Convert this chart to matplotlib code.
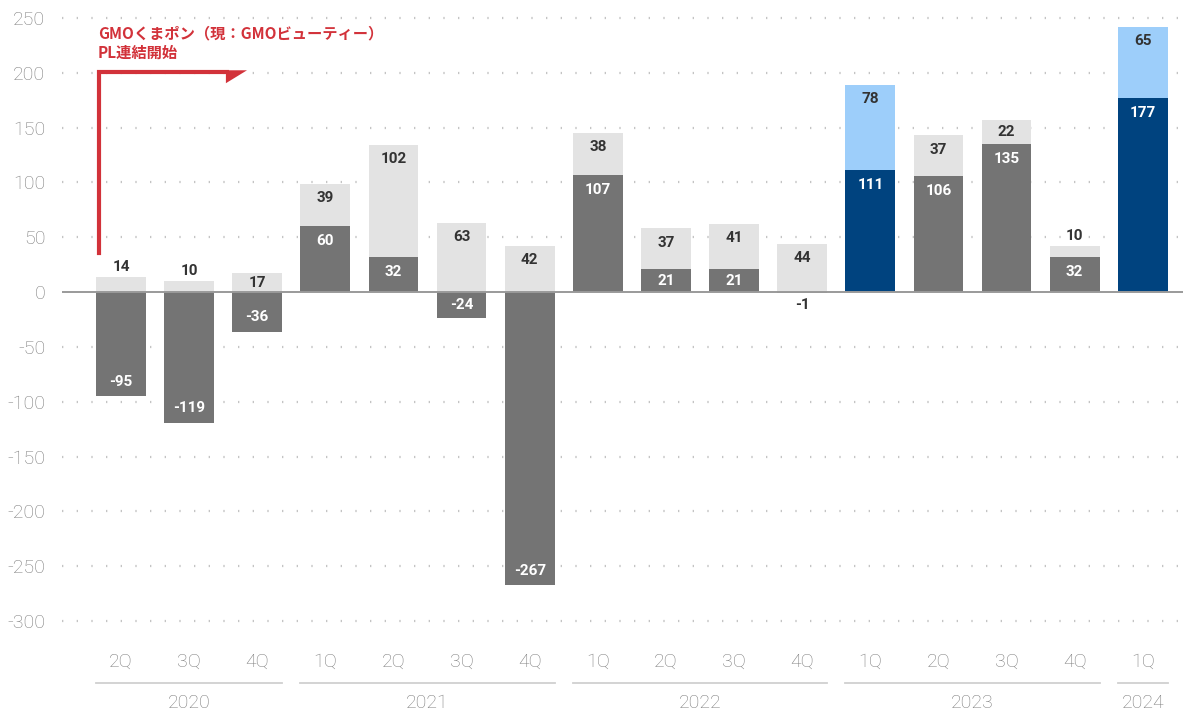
import matplotlib
matplotlib.use("Agg")
import matplotlib.pyplot as plt
import matplotlib.transforms as mtransforms
from matplotlib.patches import Polygon

plt.rcParams['font.family'] = ['Roboto', 'DejaVu Sans']

# data
quarters = ["2Q", "3Q", "4Q", "1Q", "2Q", "3Q", "4Q", "1Q", "2Q", "3Q", "4Q",
            "1Q", "2Q", "3Q", "4Q", "1Q"]
base_vals = [-95, -119, -36, 60, 32, -24, -267, 107, 21, 21, -1, 111, 106, 135, 32, 177]
top_vals = [14, 10, 17, 39, 102, 63, 42, 38, 37, 41, 44, 78, 37, 22, 10, 65]
highlight = [False] * 11 + [True, False, False, False, True]
years = ["2020", "2021", "2022", "2023", "2024"]
year_spans = [(0, 2), (3, 6), (7, 10), (11, 14), (15, 15)]
yticks = [250, 200, 150, 100, 50, 0, -50, -100, -150, -200, -250, -300]

dark_gray = "#747474"
light_gray = "#e3e3e3"
dark_blue = "#00437f"
light_blue = "#9dcefa"
red = "#d2323a"
axis_gray = "#7c7c7c"

fig = plt.figure(figsize=(11.83, 7.14), dpi=100)
ax = fig.add_axes([62 / 1183, 0.1149, 1 - 62 / 1183, 0.8676])

x = list(range(len(quarters)))
w = 0.73
base_colors = [dark_blue if h else dark_gray for h in highlight]
top_colors = [light_blue if h else light_gray for h in highlight]
top_bottoms = [max(b, 0) for b in base_vals]

for yt in yticks:
    if yt != 0:
        ax.axhline(yt, color="#c4c4c4", lw=1.6, ls=(0, (0.6, 6)), zorder=0)

ax.bar(x, base_vals, width=w, color=base_colors, zorder=2)
ax.bar(x, top_vals, width=w, bottom=top_bottoms, color=top_colors, zorder=2)
ax.axhline(0, color="#9a9a9a", lw=1.4, zorder=3)

# value labels
for i in x:
    b = base_vals[i]
    t = top_vals[i]
    tb = top_bottoms[i]
    # top segment
    if t <= 15:
        ax.text(i, tb + t + 9, str(t), ha="center", va="center", fontsize=11,
                fontweight="bold", color="#333333", zorder=4)
    else:
        ax.text(i, tb + t - min(13, t / 2), str(t), ha="center", va="center",
                fontsize=11, fontweight="bold", color="#333333", zorder=4)
    # base segment
    if abs(b) < 5:
        ax.text(i, -12, str(b), ha="center", va="center", fontsize=11,
                fontweight="bold", color="#333333", zorder=4)
    elif b > 0:
        ax.text(i, b - min(13.5, b / 2), str(b), ha="center", va="center",
                fontsize=11, fontweight="bold", color="white", zorder=4)
    else:
        ax.text(i, b + min(13, -b / 2), str(b), ha="center", va="center",
                fontsize=11, fontweight="bold", color="white", zorder=4)

ax.set_xlim(-0.866, 15.59)
ax.set_ylim(-310, 255)
ax.set_yticks(yticks)
ax.set_yticklabels([str(v) for v in yticks], fontsize=14, color=axis_gray,
                   fontweight="light")
ax.tick_params(axis="y", length=0, pad=12)
ax.set_xticks([])
for s in ax.spines.values():
    s.set_visible(False)

# category axis
trans = mtransforms.blended_transform_factory(ax.transData, fig.transFigure)
for i, q in enumerate(quarters):
    ax.text(i, 0.073, q, transform=trans, ha="center", va="center", fontsize=14,
            color=axis_gray, fontweight="light")
for yr, (a, b) in zip(years, year_spans):
    ax.plot([a - w / 2, b + w / 2], [0.0435, 0.0435], transform=trans,
            color="#d0d0d0", lw=1.3, clip_on=False)
    ax.text((a + b) / 2, 0.0155, yr, transform=trans, ha="center", va="center",
            fontsize=14, color=axis_gray, fontweight="light")

# annotation
ax.plot([-0.323, -0.323, 1.56], [35.6, 200.5, 200.5], color=red, lw=3,
        solid_joinstyle="miter", zorder=5)
ax.add_patch(Polygon([[1.54, 202.3], [1.85, 202.3], [1.54, 190.5]],
                     closed=True, color=red, lw=0, zorder=5))
ax.text(-0.34, 236, "GMOくまポン（現：GMOビューティー）", ha="left", va="center",
        fontsize=11, fontweight="bold", color=red,
        family=["Noto Sans CJK JP", "DejaVu Sans"])
ax.text(-0.34, 218, "PL連結開始", ha="left", va="center",
        fontsize=11, fontweight="bold", color=red,
        family=["Noto Sans CJK JP", "DejaVu Sans"])

fig.savefig("out.png", dpi=100)
